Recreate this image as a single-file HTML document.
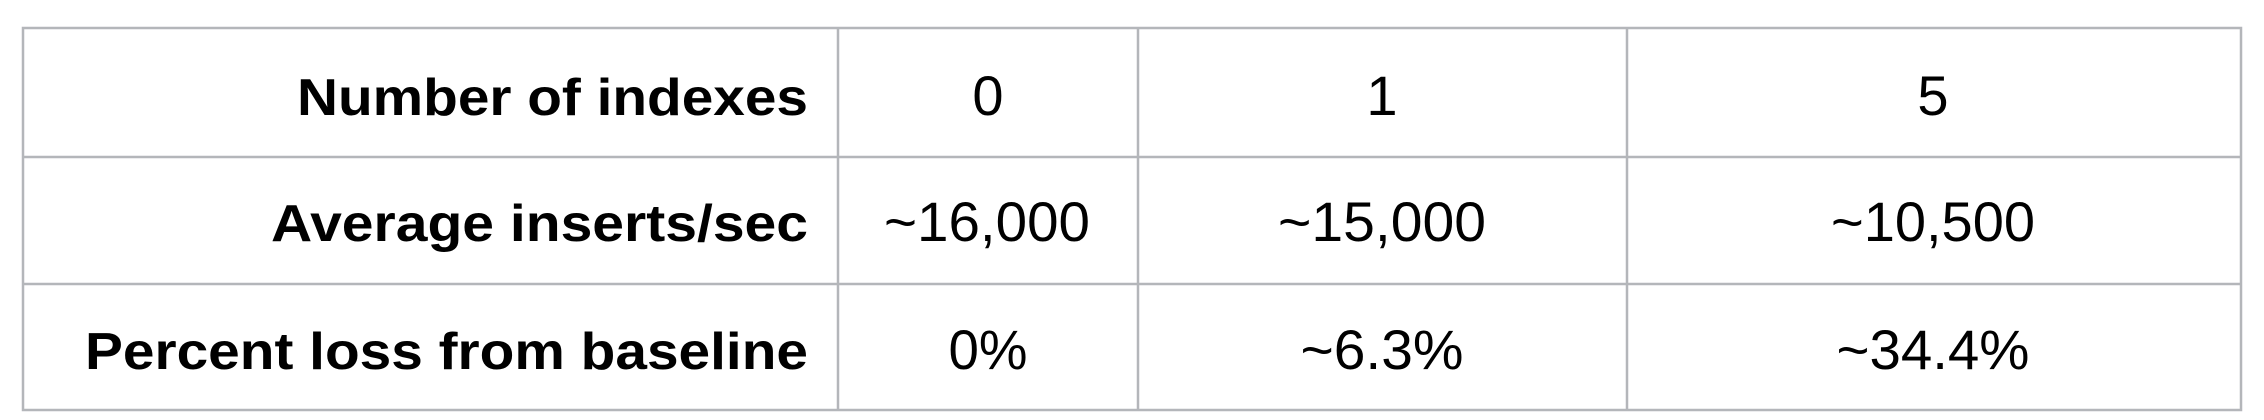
<!DOCTYPE html>
<html><head><meta charset="utf-8"><style>
html,body{margin:0;padding:0;background:#fff;width:2264px;height:420px;overflow:hidden}
svg{display:block}
.h{font-family:"Liberation Sans",sans-serif;font-weight:bold;font-size:52px;fill:#000}
.v{font-family:"Liberation Sans",sans-serif;font-size:56px;fill:#000}
</style></head><body>
<svg width="2264" height="420">
<g stroke="#b4b6ba" stroke-width="2.5">
<rect x="23" y="28" width="2218" height="382" fill="none"/>
<line x1="23" y1="157" x2="2241" y2="157"/>
<line x1="23" y1="284" x2="2241" y2="284"/>
<line x1="838" y1="28" x2="838" y2="410"/>
<line x1="1138" y1="28" x2="1138" y2="410"/>
<line x1="1627" y1="28" x2="1627" y2="410"/>
</g>
<text class="h" x="808" y="115" text-anchor="end" textLength="511" lengthAdjust="spacingAndGlyphs">Number of indexes</text>
<text class="h" x="808" y="241" text-anchor="end" textLength="537" lengthAdjust="spacingAndGlyphs">Average inserts/sec</text>
<text class="h" x="808" y="369" text-anchor="end" textLength="723" lengthAdjust="spacingAndGlyphs">Percent loss from baseline</text>

<text class="v" x="988" y="115" text-anchor="middle">0</text>
<text class="v" x="1382" y="115" text-anchor="middle">1</text>
<text class="v" x="1933" y="115" text-anchor="middle">5</text>

<text class="v" x="987" y="241" text-anchor="middle" textLength="206" lengthAdjust="spacingAndGlyphs">~16,000</text>
<text class="v" x="1382" y="241" text-anchor="middle" textLength="208" lengthAdjust="spacingAndGlyphs">~15,000</text>
<text class="v" x="1933" y="241" text-anchor="middle" textLength="204" lengthAdjust="spacingAndGlyphs">~10,500</text>

<text class="v" x="988" y="369" text-anchor="middle" textLength="79" lengthAdjust="spacingAndGlyphs">0%</text>
<text class="v" x="1382" y="369" text-anchor="middle" textLength="163" lengthAdjust="spacingAndGlyphs">~6.3%</text>
<text class="v" x="1933" y="369" text-anchor="middle" textLength="193" lengthAdjust="spacingAndGlyphs">~34.4%</text>
</svg>
</body></html>
